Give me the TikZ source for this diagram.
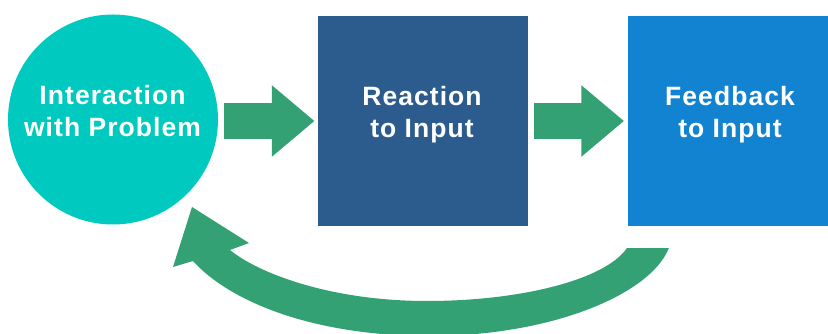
\documentclass[tikz,border=0pt]{standalone}
\usepackage{fontspec}
\usetikzlibrary{calc}
\newfontfamily\labelfont{Liberation Sans}[LetterSpace=4]

\definecolor{tealc}{HTML}{00C9BF}
\definecolor{navyc}{HTML}{2C5B8E}
\definecolor{bluec}{HTML}{1283D1}
\definecolor{flowc}{HTML}{33A174}

\tikzset{
  stage/.style={draw=none, inner sep=0pt, minimum size=210pt},
  roundstage/.style={stage, circle, fill=tealc},
  boxstage/.style={stage, rectangle},
  caption/.style={inner sep=0pt, anchor=north, align=center, text=white,
    font=\labelfont\bfseries\fontsize{26.5}{32.5}\selectfont},
  flow/.style={fill=flowc, draw=none}
}

% block arrow from #1 (tail centre) to #2 (tip)
\newcommand\blockarrow[2]{%
  \fill[flow] ($(#1)+(0,17.8)$) -- ($(#2)+(-42.5,17.8)$) -- ($(#2)+(-42.5,35.8)$)
    -- (#2) -- ($(#2)+(-42.5,-35.8)$) -- ($(#2)+(-42.5,-17.8)$)
    -- ($(#1)+(0,-17.8)$) -- cycle;}

\begin{document}
\begin{tikzpicture}[x=1pt,y=1pt]
\useasboundingbox (0,0) rectangle (828,334);

% the three stages
\node[roundstage] (circ) at (113,214.5) {};
\node[boxstage, fill=navyc] (box1) at (423,213) {};
\node[boxstage, fill=bluec] (box2) at (733,213) {};

\node[caption] (t1) at (112.5,249) {Interaction\\with Problem};
\node[caption] (t2) at (422,248) {Reaction\\to Input};
\node[caption] (t3) at (730,248) {Feedback\\to Input};

% forward arrows
\coordinate (a1s) at ([xshift=6pt]circ.east |- box1.west);
\coordinate (a1e) at ([xshift=-3.5pt]box1.west);
\coordinate (a2s) at ([xshift=6pt]box1.east);
\coordinate (a2e) at ([xshift=-4pt]box2.west);
\blockarrow{a1s}{a1e}
\blockarrow{a2s}{a2e}

% curved feedback arrow back to the circle
\coordinate (fbin) at ([xshift=-1pt,yshift=-22pt]box2.south west);
\coordinate (fbout) at ([xshift=41pt,yshift=-22pt]box2.south west);
\coordinate (fbtip) at (192,127);
\fill[flow] (fbin) -- (fbout)
  .. controls (650,39) and (550,-2) .. (430,-2)
  .. controls (310,-2) and (228,34) .. (193,73)
  -- (173,67) -- (fbtip) -- (249,91) -- (230,84)
  .. controls (258,61) and (330,33) .. (427,33)
  .. controls (520,33) and (605,54) .. (fbin) -- cycle;
\end{tikzpicture}
\end{document}
